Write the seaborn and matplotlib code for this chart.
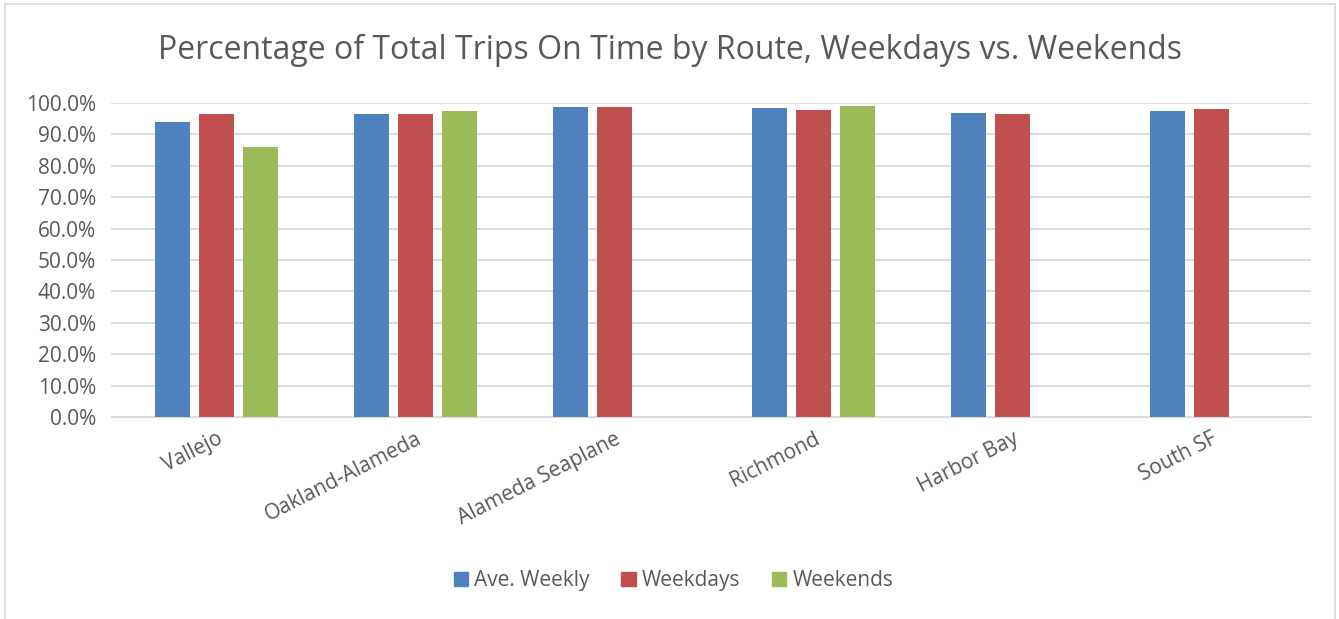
import matplotlib
matplotlib.use("Agg")
import matplotlib.pyplot as plt
import matplotlib.patches as mpatches
from matplotlib.ticker import PercentFormatter
import numpy as np
import pandas as pd
import seaborn as sns

routes = ["Vallejo", "Oakland-Alameda", "Alameda Seaplane", "Richmond", "Harbor Bay", "South SF"]
ave_weekly = [94.0, 96.4, 98.6, 98.2, 96.6, 97.5]
weekdays = [96.4, 96.3, 98.8, 97.7, 96.3, 98.1]
weekends = [85.9, 97.5, np.nan, 99.0, np.nan, np.nan]
series = ["Ave. Weekly", "Weekdays", "Weekends"]
colors = ["#4f81bd", "#c0504d", "#9bbb59"]

df = pd.DataFrame({"Route": routes, "Ave. Weekly": ave_weekly,
                   "Weekdays": weekdays, "Weekends": weekends})
long = df.melt(id_vars="Route", var_name="Series", value_name="Pct")

sns.set_style("white")
plt.rcParams["font.family"] = ["Open Sans", "DejaVu Sans"]
text_color = "#595959"

fig = plt.figure(figsize=(13.39, 6.19), dpi=100)
ax = fig.add_axes([0.083, 0.326, 0.896, 0.508])

sns.barplot(data=long, x="Route", y="Pct", hue="Series", hue_order=series,
            palette=colors, saturation=1, width=0.66, gap=0.2, ax=ax, legend=False,
            order=routes, edgecolor="none")

ax.set_ylim(0, 100)
ax.set_xlim(-0.53, 5.5)
ax.set_yticks(np.arange(0, 101, 10))
ax.yaxis.set_major_formatter(PercentFormatter(decimals=1))
ax.grid(axis="y", color="#d9d9d9", linewidth=1.3)
ax.set_axisbelow(True)
for s in ["top", "right", "left"]:
    ax.spines[s].set_visible(False)
ax.spines["bottom"].set_color("#d9d9d9")
ax.set_xlabel("")
ax.set_ylabel("")
ax.tick_params(axis="both", length=0, labelsize=15, colors=text_color)
ax.tick_params(axis="y", pad=11)
ax.tick_params(axis="x", pad=8)
plt.setp(ax.get_xticklabels(), rotation=27, ha="right", rotation_mode="anchor")

fig.suptitle("Percentage of Total Trips On Time by Route, Weekdays vs. Weekends",
             fontsize=23, color=text_color, y=0.945)

handles = [mpatches.Patch(color=c, label=s) for c, s in zip(colors, series)]
fig.legend(handles=handles, loc="center", bbox_to_anchor=(0.503, 0.062), ncol=3,
           frameon=False, fontsize=15, labelcolor=text_color, handlelength=0.7,
           handleheight=0.7, handletextpad=0.3, columnspacing=1.5)

fig.patches.append(mpatches.Rectangle((0.004, -0.01), 0.993, 1.003, transform=fig.transFigure,
                                      fill=False, edgecolor="#d9d9d9", linewidth=1.2))

plt.savefig("out.png", dpi=100)
plt.close()
